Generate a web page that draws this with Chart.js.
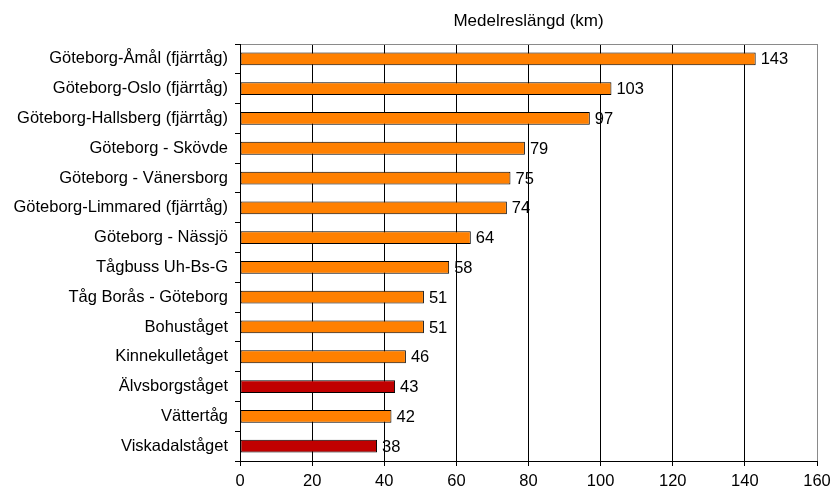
<!DOCTYPE html>
<html>
<head>
<meta charset="utf-8">
<script src="https://cdn.jsdelivr.net/npm/chart.js@4/dist/chart.umd.min.js"></script>
<style>
html,body{margin:0;padding:0;background:#fff;}
#wrap{width:834px;height:492px;}
</style>
</head>
<body>
<div id="wrap"><canvas id="c" width="834" height="492"></canvas></div>
<script>
const categories = [
  "Göteborg-Åmål (fjärrtåg)",
  "Göteborg-Oslo (fjärrtåg)",
  "Göteborg-Hallsberg (fjärrtåg)",
  "Göteborg - Skövde",
  "Göteborg - Vänersborg",
  "Göteborg-Limmared (fjärrtåg)",
  "Göteborg - Nässjö",
  "Tågbuss Uh-Bs-G",
  "Tåg Borås - Göteborg",
  "Bohuståget",
  "Kinnekulletåget",
  "Älvsborgståget",
  "Vättertåg",
  "Viskadalståget"
];
const values = [143, 103, 97, 79, 75, 74, 64, 58, 51, 51, 46, 43, 42, 38];
const highlighted = ["Älvsborgståget", "Viskadalståget"];
const axisTitle = "Medelreslängd (km)";
const xMin = 0, xMax = 160, xStep = 20;

const ORANGE = "#FF8000";
const RED = "#C00000";
const FONT = "'Liberation Sans', Arial, sans-serif";
const FS = 16.5;

const valueLabels = {
  id: 'valueLabels',
  afterDatasetsDraw(chart) {
    const ctx = chart.ctx;
    const meta = chart.getDatasetMeta(0);
    ctx.save();
    ctx.font = FS + "px " + FONT;
    ctx.fillStyle = "#000";
    ctx.textAlign = "left";
    ctx.textBaseline = "middle";
    meta.data.forEach((bar, i) => {
      ctx.fillText(String(values[i]), bar.x + 5, bar.y + 1);
    });
    ctx.restore();
  }
};

new Chart(document.getElementById('c'), {
  type: 'bar',
  data: {
    labels: categories,
    datasets: [{
      data: values,
      backgroundColor: categories.map(c => highlighted.includes(c) ? RED : ORANGE),
      borderColor: "#000",
      borderWidth: 1,
      borderSkipped: false,
      barPercentage: 0.43,
      categoryPercentage: 1.0
    }]
  },
  options: {
    indexAxis: 'y',
    responsive: false,
    animation: false,
    devicePixelRatio: 1,
    layout: { padding: { left: 0, right: 17, top: 0, bottom: 0 } },
    plugins: {
      legend: { display: false },
      title: { display: false },
      tooltip: { enabled: false }
    },
    scales: {
      x: {
        type: 'linear',
        position: 'bottom',
        min: xMin, max: xMax,
        ticks: { stepSize: xStep, color: "#000", font: { size: FS, family: FONT }, padding: 6 },
        grid: {
          color: (ctx) => (ctx.tick && ctx.tick.value === xMax) ? "#8a8a8a" : "#000",
          lineWidth: 1,
          tickLength: 5,
          tickColor: "#000"
        },
        border: { color: "#000", width: 1 },
        afterFit(scale) { scale.height = 31; scale.paddingRight = 0; scale.paddingLeft = 0; }
      },
      x2: {
        type: 'linear',
        position: 'top',
        min: xMin, max: xMax,
        ticks: { display: false },
        grid: { display: false, drawTicks: false },
        border: { display: true, color: "#8a8a8a", width: 1 },
        title: {
          display: true,
          text: axisTitle,
          color: "#000",
          font: { size: 17, family: FONT },
          padding: { top: 11, bottom: 0 }
        },
        afterFit(scale) { scale.height = 44; scale.paddingRight = 0; scale.paddingLeft = 0; }
      },
      y: {
        type: 'category',
        offset: true,
        ticks: { color: "#000", font: { size: FS, family: FONT }, padding: 7, autoSkip: false },
        grid: { drawOnChartArea: false, offset: true, tickLength: 5, color: "#000" },
        border: { color: "#000", width: 1 },
        afterFit(scale) { scale.width = 240; }
      }
    }
  },
  plugins: [valueLabels]
});
</script>
</body>
</html>
